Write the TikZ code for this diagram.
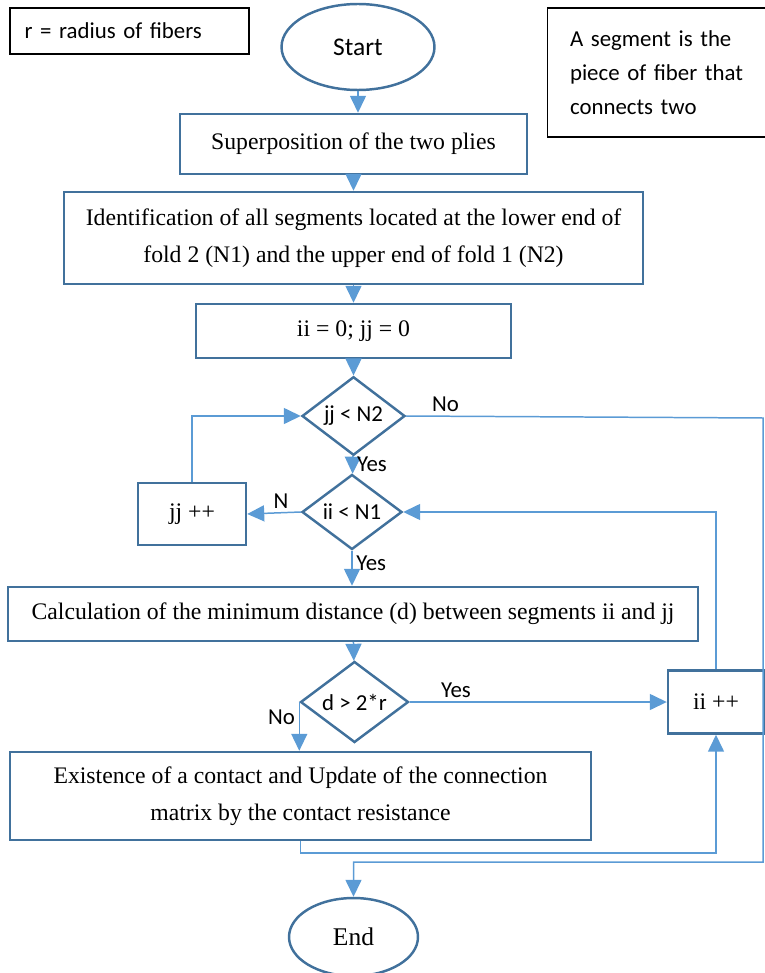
\documentclass[tikz,border=0pt]{standalone}
\usepackage{fontspec}
\setmainfont{Liberation Serif}
\newfontfamily\calfont{Carlito}
\usetikzlibrary{shapes.geometric}
\usetikzlibrary{arrows.meta}
\definecolor{boxblue}{HTML}{41719C}
\definecolor{lineblue}{HTML}{5B9BD5}
\tikzset{proc/.style={rectangle, draw=boxblue, line width=1.4pt, align=center,
   font=\fontsize{13.5}{21}\selectfont}}
\tikzset{term/.style={ellipse, draw=boxblue, line width=1.4pt, inner sep=0pt}}
\tikzset{cond/.style={diamond, draw=boxblue, line width=1.4pt, inner sep=0pt,
   font=\calfont\fontsize{13}{15}\selectfont}}
\tikzset{note/.style={rectangle, draw=black, line width=0.6pt,
   font=\calfont\fontsize{13}{19.3}\selectfont}}
\tikzset{lbl/.style={font=\calfont\fontsize{13}{15}\selectfont, inner sep=2pt}}
\tikzset{flow/.style={draw=lineblue, line width=0.85pt,
   -{Triangle[length=0.34cm,width=0.32cm]}}}

\begin{document}
\begin{tikzpicture}[x=0.02cm, y=-0.02cm]

    \useasboundingbox (0,0) rectangle (764,973);

    % notes
    \node[note, minimum width=4.78cm, minimum height=0.92cm, text width=4.2cm, align=left] (radius) at (129.5,31) {r = radius of fibers};
    \node[note, minimum width=4.5cm, minimum height=2.58cm, text width=3.6cm, align=left] (segdef) at (660,72.5) {A segment is the\\piece of fiber that\\connects two};

    % main column
    \node[term, minimum width=3.06cm, minimum height=1.72cm, font=\calfont\fontsize{14.5}{15}\selectfont] (start) at (358,47) {Start};
    \node[proc, minimum width=6.94cm, minimum height=1.2cm] (sup) at (353.5,144) {Superposition of the two plies};
    \node[proc, minimum width=11.58cm, minimum height=1.84cm] (ident) at (353.5,238) {Identification of all segments located at the lower end of\\fold 2 (N1) and the upper end of fold 1 (N2)};
    \node[proc, minimum width=6.3cm, minimum height=1.08cm] (init) at (353.5,331) {ii = 0; jj = 0};
    \node[cond, minimum width=2.06cm, minimum height=1.44cm] (cjj) at (353.5,416) {jj < N2};
    \node[cond, minimum width=2.0cm, minimum height=1.5cm] (cii) at (352,512) {ii < N1};
    \node[proc, minimum width=2.16cm, minimum height=1.24cm] (jjinc) at (192,514) {jj ++};
    \node[proc, minimum width=13.8cm, minimum height=1.08cm] (calc) at (353,614) {Calculation of the minimum distance (d) between segments ii and jj};
    \node[cond, minimum width=2.16cm, minimum height=1.34cm] (cd) at (354.5,702) {d > 2*r};
    \node[proc, minimum width=1.92cm, minimum height=1.26cm] (iiinc) at (716,702) {ii ++};
    \node[proc, minimum width=11.62cm, minimum height=1.76cm] (exist) at (300.5,796) {Existence of a contact and Update of the connection\\matrix by the contact resistance};
    \node[term, minimum width=2.58cm, minimum height=1.56cm, font=\fontsize{14.5}{15}\selectfont] (fin) at (353.5,937) {End};

    \coordinate (rtop) at (763,418);
    \coordinate (rbot) at (763,862);

    % connectors
    \draw[flow] (start) -- (start |- sup.north);
    \draw[flow] (sup) -- (ident);
    \draw[flow] (ident) -- (init);
    \draw[flow] (init) -- (cjj);
    \draw[flow] (cjj) -- node[lbl, right, pos=0.45] {Yes} (cii);
    \draw[flow] (cii.west) -- node[lbl, above, pos=0.37] {N} (jjinc.east);
    \draw[flow] (jjinc.north) |- (cjj.west);
    \draw[flow] (cii.south) -- node[lbl, right, pos=0.35] {Yes} (cii.south |- calc.north);
    \draw[flow] (calc) -- (cd);
    \draw[flow] (cd.east) -- node[lbl, above, pos=0.18] {Yes} (iiinc.west);
    \draw[flow] (iiinc.north) |- (cii.east);
    \draw[flow] (cd.west) -- node[lbl, left, pos=0.32] {No} (cd.west |- exist.north);
    \draw[flow] (exist.south) -- ++(0,12) -| (iiinc.south);
    \draw[flow] (cjj.east) -- node[lbl, above, pos=0.11] {No} (rtop) -- (rbot) -| (fin.north);

\end{tikzpicture}
\end{document}
